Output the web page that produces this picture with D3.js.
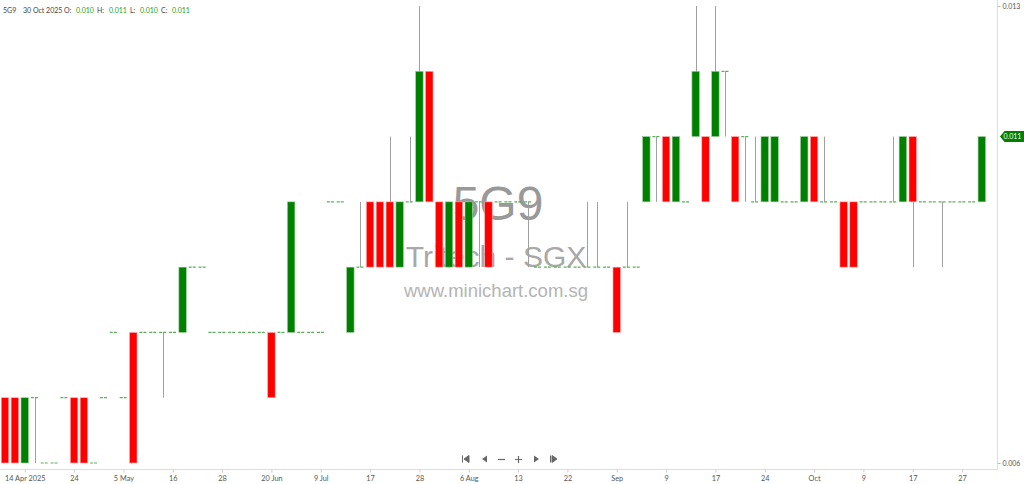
<!DOCTYPE html>
<html>
    <head>
        <title>5G9 daily candles</title>
        <script src="https://d3js.org/d3.v7.min.js"></script>
        <style>
            body { margin: 0; background: #fff; }
            text { font-family: Lato, "Liberation Sans", sans-serif; }
        </style>
    </head>
    <body>
        <script>
            const width = 1024;
            const height = 484;

            // daily prices, one entry per bar (left to right)
            const OPEN = [
                .007,.007,.006,.007,.006,.006,.007,.007,.007,.006,
                .007,.008,.007,.008,.008,.008,.008,.008,.008,.009,
                .009,.008,.008,.008,.008,.008,.008,.008,.008,.008,
                .008,.008,.008,.010,.010,.008,.009,.010,.010,.010,
                .009,.010,.010,.012,.010,.009,.010,.009,.010,.010,
                .010,.010,.010,.010,.009,.009,.009,.009,.009,.009,
                .009,.009,.009,.009,.009,.010,.011,.011,.010,.010,
                .011,.011,.011,.012,.011,.011,.010,.010,.010,.010,
                .010,.010,.011,.010,.010,.010,.010,.010,.010,.010,
                .010,.010,.011,.010,.010,.010,.010,.010,.010,.010];
            const HIGH = [
                .007,.007,.007,.007,.006,.006,.007,.007,.007,.006,
                .007,.008,.007,.008,.008,.008,.008,.008,.009,.009,
                .009,.008,.008,.008,.008,.008,.008,.008,.008,.010,
                .008,.008,.008,.010,.010,.009,.010,.010,.010,.011,
                .010,.011,.013,.012,.010,.010,.010,.010,.010,.010,
                .010,.010,.010,.010,.009,.009,.009,.009,.009,.010,
                .010,.009,.009,.010,.009,.011,.011,.011,.011,.010,
                .013,.011,.013,.012,.011,.011,.011,.011,.011,.010,
                .010,.011,.011,.011,.010,.010,.010,.010,.010,.010,
                .011,.011,.011,.010,.010,.010,.010,.010,.010,.011];
            const LOW = [
                .006,.006,.006,.006,.006,.006,.007,.006,.006,.006,
                .007,.008,.007,.006,.008,.008,.007,.008,.008,.009,
                .009,.008,.008,.008,.008,.008,.008,.007,.008,.008,
                .008,.008,.008,.010,.010,.008,.009,.009,.009,.009,
                .009,.010,.010,.010,.009,.009,.009,.009,.009,.009,
                .010,.010,.010,.009,.009,.009,.009,.009,.009,.009,
                .009,.009,.008,.009,.009,.010,.010,.010,.010,.010,
                .011,.010,.011,.011,.010,.010,.010,.010,.010,.010,
                .010,.010,.010,.010,.010,.009,.009,.010,.010,.010,
                .010,.010,.009,.010,.010,.009,.010,.010,.010,.010];
            const CLOSE = [
                .006,.006,.007,.007,.006,.006,.007,.006,.006,.006,
                .007,.008,.007,.006,.008,.008,.008,.008,.009,.009,
                .009,.008,.008,.008,.008,.008,.008,.007,.008,.010,
                .008,.008,.008,.010,.010,.009,.009,.009,.009,.009,
                .010,.010,.012,.010,.009,.010,.009,.010,.010,.009,
                .010,.010,.010,.010,.009,.009,.009,.009,.009,.009,
                .009,.009,.008,.009,.009,.011,.011,.010,.011,.010,
                .012,.010,.012,.012,.010,.011,.010,.011,.011,.010,
                .010,.011,.010,.010,.010,.009,.009,.010,.010,.010,
                .010,.011,.010,.010,.010,.010,.010,.010,.010,.011];

            // x axis labels sit under every fifth bar
            const TICK_IDX = [2, 7, 12, 17, 22, 27, 32, 37, 42, 47, 52, 57, 62, 67, 72, 77, 82, 87, 92, 97];
            const TICK_LABELS = ["14 Apr 2025", "24", "5 May", "16", "28", "20 Jun", "9 Jul", "17", "28", "6 Aug",
                                 "13", "22", "Sep", "9", "17", "24", "Oct", "9", "17", "27"];
            const PRICE_TICKS = [0.006, 0.013];
            const LAST = { date: "30 Oct 2025", o: 0.010, h: 0.011, l: 0.010, c: 0.011 };

            const GREEN = "#008000";
            const RED = "#ff0000";

            const bars = d3.range(OPEN.length).map(i => ({
                i: i, o: OPEN[i], h: HIGH[i], l: LOW[i], c: CLOSE[i]
            }));

            const svg = d3.select("body")
                .append("svg")
                .attr("width", width)
                .attr("height", height);

            const x = d3.scalePoint()
                .domain(d3.range(OPEN.length))
                .range([5, 981.8]);

            const y = d3.scaleLinear()
                .domain([0.006, 0.013])
                .range([463, 6]);

            const bodyW = x.step() * 0.76;
            const fmt = d3.format(".3f");

            // watermark
            const wm = svg.append("g").attr("text-anchor", "middle");
            wm.append("text").attr("x", 498).attr("y", 220)
                .attr("font-size", 48).attr("fill", "#999").text("5G9")
                .style("font-family", "'Liberation Sans', Arial, sans-serif");
            wm.append("text").attr("x", 496).attr("y", 267)
                .attr("font-size", 30).attr("fill", "#a8a8a8").text("Tritech - SGX")
                .style("font-family", "'Liberation Sans', Arial, sans-serif");
            wm.append("text").attr("x", 496).attr("y", 297)
                .attr("font-size", 18.5).attr("fill", "#b4b4b4").text("www.minichart.com.sg")
                .style("font-family", "'Liberation Sans', Arial, sans-serif");

            // axes frame
            svg.append("line")
                .attr("x1", 0).attr("x2", 997)
                .attr("y1", 469.5).attr("y2", 469.5)
                .attr("stroke", "#ddd");
            svg.append("line")
                .attr("x1", 997.5).attr("x2", 997.5)
                .attr("y1", 0).attr("y2", 470)
                .attr("stroke", "#ddd");

            const xAxis = svg.append("g")
                .attr("transform", "translate(0,469.5)")
                .call(d3.axisBottom(x)
                    .tickValues(TICK_IDX)
                    .tickFormat((d, k) => TICK_LABELS[k])
                    .tickSize(3)
                    .tickPadding(3));
            xAxis.select(".domain").remove();
            xAxis.selectAll("line").attr("stroke", "#ccc");
            xAxis.selectAll("text").attr("fill", "#555").attr("font-size", 7.3)
                .style("font-family", "Lato, sans-serif");

            const yAxis = svg.append("g")
                .attr("transform", "translate(997.5,0)")
                .call(d3.axisRight(y)
                    .tickValues(PRICE_TICKS)
                    .tickFormat(fmt)
                    .tickSize(3)
                    .tickPadding(2));
            yAxis.select(".domain").remove();
            yAxis.selectAll("line").attr("stroke", "#bbb");
            yAxis.selectAll("text").attr("fill", "#555").attr("font-size", 7)
                .style("font-family", "Lato, sans-serif");

            // wicks
            svg.append("g").selectAll("line")
                .data(bars.filter(d => d.h > d.l))
                .enter()
                .append("line")
                .attr("x1", d => Math.round(x(d.i)) + 0.5)
                .attr("x2", d => Math.round(x(d.i)) + 0.5)
                .attr("y1", d => y(d.h))
                .attr("y2", d => y(d.l))
                .attr("stroke", "#a0a0a0")
                .attr("stroke-width", 1);

            // doji / no-change days drawn as short green ticks
            svg.append("g").selectAll("line")
                .data(bars.filter(d => d.o === d.c))
                .enter()
                .append("line")
                .attr("x1", d => x(d.i) - bodyW / 2)
                .attr("x2", d => x(d.i) + bodyW / 2)
                .attr("y1", d => y(d.c))
                .attr("y2", d => y(d.c))
                .attr("stroke", "#5cae5c")
                .attr("stroke-dasharray", "3,1")
                .attr("stroke-width", 1.2);

            // candle bodies
            svg.append("g").selectAll("rect")
                .data(bars.filter(d => d.o !== d.c))
                .enter()
                .append("rect")
                .attr("x", d => x(d.i) - bodyW / 2)
                .attr("width", bodyW)
                .attr("y", d => y(Math.max(d.o, d.c)))
                .attr("height", d => Math.abs(y(d.o) - y(d.c)))
                .attr("fill", d => d.c > d.o ? GREEN : RED)
                .attr("stroke", d => d.c > d.o ? "#9fd09f" : "#ffb0b0")
                .attr("stroke-width", 0.6);

            // last price tag
            const ty = y(LAST.c);
            svg.append("path")
                .attr("d", `M1000,${ty} L1004.5,${ty - 5.5} L1024,${ty - 5.5} L1024,${ty + 5.5} L1004.5,${ty + 5.5} Z`)
                .attr("fill", GREEN);
            svg.append("text")
                .attr("x", 1003.5).attr("y", ty + 2.6)
                .attr("font-size", 7).attr("fill", "#fff")
                .text(fmt(LAST.c));

            // header line
            const head = svg.append("text")
                .attr("x", 3).attr("y", 12.5)
                .attr("font-size", 7).attr("fill", "#444");
            head.append("tspan").text("5G9");
            head.append("tspan").attr("x", 23).text(LAST.date);
            const parts = [["O:", LAST.o, 64, 76], ["H:", LAST.h, 97, 109], ["L:", LAST.l, 130, 140], ["C:", LAST.c, 161, 172]];
            parts.forEach(p => {
                head.append("tspan").attr("x", p[2]).text(p[0]);
                head.append("tspan").attr("x", p[3]).attr("fill", "#22a022").text(fmt(p[1]));
            });

            // navigation buttons
            const nav = svg.append("g").attr("fill", "#666").attr("stroke", "#666");
            nav.append("path").attr("d", "M462.5,455.5 v7 M464,459 l5,-3.5 v7 z").attr("stroke-width", 1);
            nav.append("path").attr("d", "M482,459 l5,-3.5 v7 z").attr("stroke", "none");
            nav.append("path").attr("d", "M498,459.5 h7").attr("stroke-width", 1.2);
            nav.append("path").attr("d", "M515,459.5 h7 M518.5,456 v7").attr("stroke-width", 1.2);
            nav.append("path").attr("d", "M539,459 l-5,-3.5 v7 z").attr("stroke", "none");
            nav.append("path").attr("d", "M551,459 l5,-3.5 v7 z M557.5,455.5 v7").attr("stroke-width", 1)
                .attr("transform", "translate(1108,0) scale(-1,1)");
        </script>
    </body>
</html>
